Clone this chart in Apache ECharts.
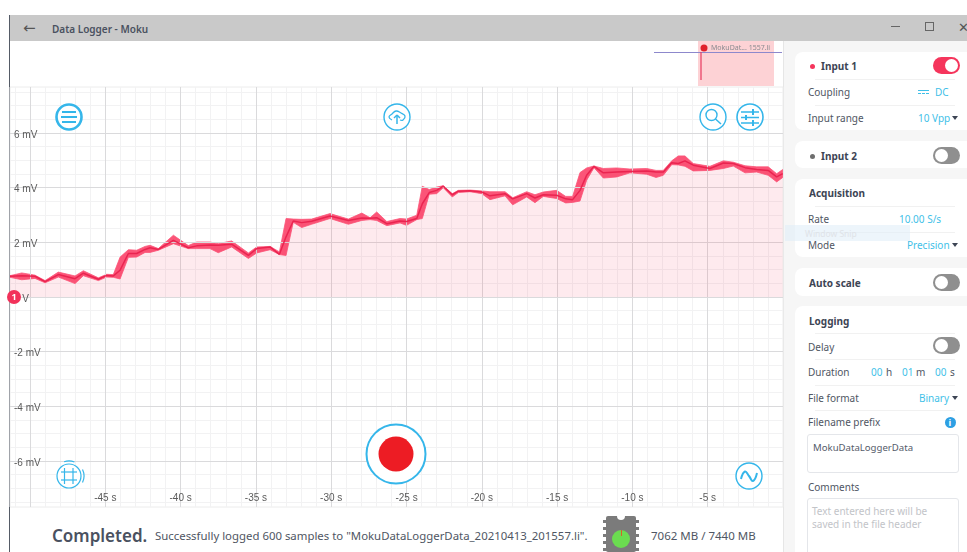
<!DOCTYPE html>
<html>
<head>
<meta charset="utf-8">
<title>Data Logger - Moku</title>
<script src="https://cdn.jsdelivr.net/npm/echarts@6/dist/echarts.min.js"></script>
<style>
html, body { margin: 0; padding: 0; width: 967px; height: 552px; overflow: hidden; background: #fff; font-family: "Noto Sans", sans-serif; }
#chart { position: absolute; left: 0; top: 0; width: 967px; height: 552px; }
#ui { position: absolute; left: 0; top: 0; width: 967px; height: 552px; overflow: hidden; }
.box { position: absolute; box-sizing: border-box; }
.t { position: absolute; white-space: nowrap; transform: translateY(-50%); font-size: 10px; color: #4f5663; }
.b { font-weight: 700; color: #3d4554; }
.c { color: #3fbfe8; }
.card { background: #fff; border-radius: 8px; }
.field { background: #fff; border: 1px solid #e4e6ea; border-radius: 3px; }
.sw { border-radius: 9px; width: 27px; height: 17px; }
.knob { position: absolute; top: 2px; width: 13px; height: 13px; border-radius: 50%; background: #fff; }
.rule { height: 1px; background: #f1f1f1; left: 815px !important; width: 140px !important; }
.tri { position: absolute; width: 0; height: 0; border-left: 3.5px solid transparent; border-right: 3.5px solid transparent; border-top: 4px solid #3d4554; }
</style>
</head>
<body>
<div id="ui"></div>
<div id="chart"></div>
<script>
// envelope, one row per vertex
var timeS = [-51.33, -50.55, -49.67, -49.0, -48.12, -47.01, -46.46, -45.46, -44.91, -44.47, -44.02, -43.47, -42.92, -42.36, -42.03, -41.48, -40.48, -39.49, -38.93, -38.05, -37.5, -36.61, -35.5, -34.95, -34.06, -33.44, -33.0, -32.52, -31.96, -31.3, -30.08, -28.86, -27.97, -27.42, -26.98, -26.31, -25.43, -25.0, -24.32, -23.95, -23.49, -23.0, -22.56, -21.96, -21.56, -20.79, -20.0, -19.46, -18.46, -17.95, -17.02, -16.47, -15.92, -15.03, -14.43, -13.97, -13.48, -13.04, -12.55, -11.93, -11.04, -10.16, -9.05, -8.43, -7.95, -7.39, -6.95, -6.51, -5.96, -4.85, -3.96, -3.3, -2.52, -1.75, -0.98, -0.42, -0.02];
var midMv = [0.76, 0.78, 0.76, 0.56, 0.82, 0.67, 0.87, 0.65, 0.79, 0.77, 0.98, 1.59, 1.59, 1.74, 1.8, 1.74, 2.07, 1.8, 1.87, 1.9, 1.89, 1.93, 1.52, 1.77, 1.83, 1.56, 2.2, 2.78, 2.72, 2.77, 2.96, 2.8, 2.89, 2.88, 2.9, 2.68, 2.78, 2.76, 2.87, 3.41, 3.82, 3.9, 4.05, 3.74, 3.87, 3.89, 3.84, 3.7, 3.78, 3.59, 3.78, 3.62, 3.74, 3.72, 3.59, 3.56, 3.9, 4.45, 4.78, 4.54, 4.57, 4.59, 4.61, 4.57, 4.57, 4.91, 4.88, 4.98, 4.82, 4.7, 4.9, 4.88, 4.73, 4.66, 4.63, 4.39, 4.51];
var highMv = [0.78, 0.88, 0.8, 0.6, 0.91, 0.77, 0.96, 0.7, 0.83, 0.82, 1.46, 1.73, 1.71, 1.85, 1.89, 1.77, 2.26, 1.88, 2.01, 2.01, 1.95, 2.05, 1.61, 1.83, 1.85, 1.65, 2.87, 2.85, 2.84, 2.85, 3.05, 2.85, 3.07, 2.9, 3.11, 2.76, 2.87, 2.85, 2.99, 4.05, 3.93, 4.02, 4.07, 3.78, 3.9, 3.91, 3.88, 3.85, 3.85, 3.63, 3.85, 3.74, 3.84, 3.9, 3.68, 3.68, 4.55, 4.72, 4.79, 4.7, 4.72, 4.68, 4.7, 4.63, 4.63, 4.98, 5.16, 5.16, 4.88, 4.78, 4.98, 4.93, 4.8, 4.76, 4.76, 4.51, 4.66];
var lowMv = [0.72, 0.63, 0.68, 0.52, 0.73, 0.49, 0.78, 0.6, 0.73, 0.72, 0.66, 1.45, 1.46, 1.63, 1.63, 1.71, 1.95, 1.77, 1.77, 1.77, 1.62, 1.83, 1.41, 1.61, 1.73, 1.55, 1.52, 2.73, 2.54, 2.66, 2.87, 2.66, 2.8, 2.83, 2.8, 2.61, 2.71, 2.62, 2.83, 2.87, 3.76, 3.78, 4.0, 3.66, 3.82, 3.85, 3.78, 3.56, 3.7, 3.37, 3.66, 3.45, 3.68, 3.6, 3.44, 3.46, 3.51, 4.27, 4.73, 4.35, 4.39, 4.54, 4.49, 4.37, 4.45, 4.84, 4.83, 4.78, 4.61, 4.63, 4.7, 4.79, 4.54, 4.57, 4.45, 4.21, 4.37];

var xLabelTicks = [-45, -40, -35, -30, -25, -20, -15, -10, -5];
var xMajorTicks = [-50, -45, -40, -35, -30, -25, -20, -15, -10, -5];
var yMajorTicks = [-6, -4, -2, 0, 2, 4, 6];

var xMinorTicks = [];
for (var s = -51; s < 0; s++) {
    xMinorTicks.push(s);
}
var yMinorTicks = [];
for (var m = -7.5; m <= 7.5; m += 0.5) {
    yMinorTicks.push(m);
}

var BLUE = '#35b6ea';

function pairs(values) {
    return values.map(function (v, i) {
        return [timeS[i], v];
    });
}

// min/max envelope as one closed polygon
function renderBand(params, api) {
    if (params.dataIndex !== 0) {
        return;
    }
    var upper = timeS.map(function (t, i) { return api.coord([t, highMv[i]]); });
    var lower = timeS.map(function (t, i) { return api.coord([t, lowMv[i]]); }).reverse();
    return {
        type: 'polygon',
        shape: { points: upper.concat(lower) },
        style: { fill: '#fb5578', stroke: '#fb5578', lineWidth: 0.8 }
    };
}

function ring(x, y, r, width) {
    return { type: 'circle', shape: { cx: x, cy: y, r: r }, style: { fill: '#fff', stroke: BLUE, lineWidth: width }, z: 20 };
}

function seg(x1, y1, x2, y2, color, width) {
    return { type: 'line', shape: { x1: x1, y1: y1, x2: x2, y2: y2 }, style: { stroke: color || BLUE, lineWidth: width || 1.5 }, z: 21 };
}

function curve(points, width) {
    return { type: 'polyline', shape: { points: points, smooth: 0.5 }, style: { fill: 'none', stroke: BLUE, lineWidth: width || 1.5 }, z: 21 };
}

function arc(x, y, r, a, b) {
    return { type: 'arc', shape: { cx: x, cy: y, r: r, startAngle: a, endAngle: b }, style: { fill: 'none', stroke: BLUE, lineWidth: 1.2 }, z: 21 };
}

var graphics = [
    // overview strip
    { type: 'rect', shape: { x: 698, y: 41, width: 76, height: 45 }, style: { fill: '#fdd2d5' }, z: 20 },
    seg(654, 52.5, 782, 52.5, '#8d88cc', 1),
    seg(701, 52, 701, 80, '#e8395f', 1.2),
    { type: 'circle', shape: { cx: 704, cy: 48, r: 3.5 }, style: { fill: '#e0202c' }, z: 21 },
    { type: 'text', style: { x: 711, y: 48, text: 'MokuDat... 1557.li', fontSize: 7, fill: '#8b8b90', verticalAlign: 'middle', fontFamily: 'Noto Sans' }, z: 21 },

    // menu
    ring(69, 117, 12.5, 2.6),
    seg(62, 112, 76, 112, BLUE, 2), seg(61, 117, 77, 117, BLUE, 2), seg(62, 122, 76, 122, BLUE, 2),
    // cloud upload
    ring(397, 117, 13, 1.4),
    curve([[392, 120], [389, 117], [392, 114], [396, 111], [401, 113], [405, 116], [403, 120], [400, 120]], 1.3),
    seg(397, 115, 397, 124), seg(394, 118, 397, 115), seg(400, 118, 397, 115),
    // search
    ring(713, 117, 13, 1.4),
    { type: 'circle', shape: { cx: 711.5, cy: 115, r: 5.5 }, style: { fill: 'none', stroke: BLUE, lineWidth: 1.4 }, z: 21 },
    seg(715.5, 119, 721, 124),
    // sliders
    ring(750, 117, 13, 1.6),
    seg(741, 112, 759, 112), seg(741, 117.5, 759, 117.5), seg(741, 123, 759, 123),
    seg(753, 109, 753, 115, BLUE, 2), seg(746, 115, 746, 120, BLUE, 2), seg(753, 120, 753, 126, BLUE, 2),
    // grid
    ring(69, 476, 12, 1.2),
    arc(69, 476, 15, -1.9, -1.2), arc(69, 476, 15, -0.45, 0.45),
    seg(64.5, 468, 64.5, 484, BLUE, 1.2), seg(73, 468, 73, 484, BLUE, 1.2),
    seg(61, 472, 77, 472, BLUE, 1.2), seg(61, 480, 77, 480, BLUE, 1.2),
    // sine
    ring(749, 476, 13, 1.4),
    curve([[741, 479], [745, 471.5], [749, 476], [753, 481], [757, 473]], 2),
    // record button
    ring(396, 454, 29.5, 2),
    { type: 'circle', shape: { cx: 396, cy: 454, r: 17.5 }, style: { fill: '#ed1c24' }, z: 21 },
    // input marker
    { type: 'circle', shape: { cx: 14, cy: 297, r: 7 }, style: { fill: '#f2315a' }, z: 20 },
    { type: 'text', style: { x: 14, y: 297, text: '1', fontSize: 9, fontWeight: 'bold', fill: '#fff', align: 'center', verticalAlign: 'middle', fontFamily: 'Noto Sans' }, z: 21 }
];

var chart = echarts.init(document.getElementById('chart'), null, { renderer: 'canvas' });
chart.setOption({
    animation: false,
    backgroundColor: 'transparent',
    grid: { left: 10, right: 184, top: 87, bottom: 45, show: true, borderColor: '#ececec', borderWidth: 1 },
    xAxis: [{
        type: 'value',
        min: -51.33,
        max: 0,
        axisLine: { show: false },
        axisTick: { show: false, customValues: xMajorTicks },
        axisLabel: {
            inside: true,
            margin: 4,
            customValues: xLabelTicks,
            color: '#5a5a5a',
            fontSize: 10,
            fontFamily: 'Liberation Sans',
            formatter: function (v) { return v + ' s'; }
        },
        splitLine: { show: true, lineStyle: { color: '#dadadc', width: 1 } },
        z: 3
    }, {
        type: 'value',
        min: -51.33,
        max: 0,
        axisLine: { show: false },
        axisTick: { show: false, customValues: xMinorTicks },
        axisLabel: { show: false },
        splitLine: { show: true, lineStyle: { color: '#f2f2f3', width: 1 } },
        z: 1
    }],
    yAxis: [{
        type: 'value',
        min: -7.68,
        max: 7.68,
        axisLine: { show: false },
        axisTick: { show: false, customValues: yMajorTicks },
        axisLabel: {
            inside: true,
            margin: 4,
            verticalAlign: 'top',
            lineHeight: 4,
            customValues: yMajorTicks,
            color: '#5a5a5a',
            fontSize: 10,
            fontFamily: 'Liberation Sans',
            formatter: function (v) { return v === 0 ? '0 V' : v + ' mV'; }
        },
        splitLine: { show: true, lineStyle: { color: '#dadadc', width: 1 } },
        z: 3
    }, {
        type: 'value',
        min: -7.68,
        max: 7.68,
        axisLine: { show: false },
        axisTick: { show: false, customValues: yMinorTicks },
        axisLabel: { show: false },
        splitLine: { show: true, lineStyle: { color: '#f2f2f3', width: 1 } },
        z: 1
    }],
    series: [{
        name: 'fill',
        type: 'line',
        data: pairs(midMv),
        showSymbol: false,
        silent: true,
        lineStyle: { width: 0 },
        areaStyle: { color: 'rgba(247,60,95,0.15)' }
    }, {
        name: 'band',
        type: 'custom',
        data: pairs(highMv),
        renderItem: renderBand,
        silent: true,
        clip: true
    }, {
        name: 'Input 1',
        type: 'line',
        data: pairs(midMv),
        showSymbol: false,
        silent: true,
        lineStyle: { color: '#ea2450', width: 1.5 }
    }],
    graphic: { elements: graphics }
});

// window chrome and side panel around the plot
var ui = document.getElementById('ui');

function box(x, y, w, h, cls, css) {
    var el = document.createElement('div');
    el.className = 'box ' + (cls || '');
    el.style.cssText = 'left:' + x + 'px;top:' + y + 'px;width:' + w + 'px;height:' + h + 'px;' + (css || '');
    ui.appendChild(el);
    return el;
}

function text(str, x, y, cls, css) {
    var el = document.createElement('div');
    el.className = 't ' + (cls || '');
    el.style.cssText = 'left:' + x + 'px;top:' + y + 'px;' + (css || '');
    el.textContent = str;
    ui.appendChild(el);
}

function toggle(y, on) {
    var el = box(933, y, 27, 17, 'sw', 'background:' + (on ? '#f5355c' : '#8f8f8f'));
    var k = document.createElement('div');
    k.className = 'knob';
    k.style.left = on ? '12px' : '2px';
    el.appendChild(k);
}

function arrow(x, y) {
    var el = document.createElement('div');
    el.className = 'tri';
    el.style.left = x + 'px';
    el.style.top = y + 'px';
    ui.appendChild(el);
}

// title bar
box(10, 15, 957, 26, '', 'background:#c9c9c9');
box(9, 15, 1, 537, '', 'background:#555b66');
text('\u2190', 23, 28, '', 'font-size:15px;color:#555;font-family:DejaVu Sans');
text('Data Logger - Moku', 52, 29, '', 'font-size:10px;font-weight:600;color:#4a5160');
box(891, 26, 9, 1, '', 'background:#666');
box(925, 22, 9, 9, '', 'border:1px solid #666');
text('\u2715', 958, 27, '', 'font-size:13px;color:#555;font-family:DejaVu Sans');

// side panel
box(783, 41, 184, 511, '', 'background:#f6f6f6;border-left:1px solid #e6e6e6');
box(795, 52, 180, 78, 'card');
box(795, 141, 180, 27, 'card');
box(795, 179, 180, 78, 'card');
box(795, 268, 180, 28, 'card');
box(795, 306, 180, 260, 'card');

box(809.5, 63.5, 5, 5, '', 'background:#f5355c;border-radius:50%');
text('Input 1', 821, 66, 'b');
toggle(57, true);
box(0, 79, 0, 1, 'rule');
text('Coupling', 808, 92);
box(918, 90, 11, 1, '', 'background:#3fbfe8');
box(918, 93, 11, 1, '', 'border-top:1px dashed #3fbfe8');
text('DC', 935, 92, 'c');
box(0, 105, 0, 1, 'rule');
text('Input range', 808, 118);
text('10 Vpp', 918, 118, 'c');
arrow(952, 116);

box(809.5, 153.5, 5, 5, '', 'background:#6e6e6e;border-radius:50%');
text('Input 2', 821, 156, 'b');
toggle(147, false);

text('Acquisition', 809, 193, 'b');
box(0, 206, 0, 1, 'rule');
text('Rate', 808, 219);
text('10.00  S/s', 899, 219, 'c');
box(0, 232, 0, 1, 'rule');
text('Mode', 808, 245);
text('Precision', 907, 245, 'c');
arrow(952, 243);

text('Auto scale', 809, 283, 'b');
toggle(274, false);

text('Logging', 809, 321, 'b');
box(0, 333, 0, 1, 'rule');
text('Delay', 808, 347);
toggle(337, false);
box(0, 359, 0, 1, 'rule');
text('Duration', 808, 372);
text('00', 871, 372, 'c');
text('h', 886, 372);
text('01', 902, 372, 'c');
text('m', 916, 372);
text('00', 935, 372, 'c');
text('s', 950, 372);
box(0, 385, 0, 1, 'rule');
text('File format', 808, 398);
text('Binary', 919, 398, 'c');
arrow(952, 396);
box(0, 410, 0, 1, 'rule');
text('Filename prefix', 808, 422);
box(944.5, 416.5, 11, 11, '', 'background:#2d9fe3;border-radius:50%');
text('i', 948.5, 422, '', 'font-size:9px;font-weight:700;color:#fff');
box(807, 434, 152, 39, 'field');
text('MokuDataLoggerData', 813, 447, '', 'font-size:9.6px;color:#555c6a');
text('Comments', 808, 487);
box(807, 498, 152, 70, 'field');
text('Text entered here will be', 812, 511, '', 'color:#c2c4c8');
text('saved in the file header', 812, 524, '', 'color:#c2c4c8');

// screenshot tool overlay left on the panel
box(785, 225, 125, 16, '', 'background:rgba(225,238,248,0.6)');
text('Window Snip', 805, 233, '', 'font-size:8.5px;color:#dfe3e8');

// status line
text('Completed.', 52, 535, '', 'font-size:17px;font-weight:600;color:#4a5160');
text('Successfully logged 600 samples to "MokuDataLoggerData_20210413_201557.li".', 155, 535, '', 'font-size:11.4px;color:#4f5663');
text('7062 MB / 7440 MB', 651, 535, '', 'font-size:11.5px;color:#4f5663');

// memory chip
box(606, 516, 30, 36, '', 'background:#7b7b7b;border-radius:2px');
for (var p = 0; p < 5; p++) {
    box(603, 520 + p * 7, 36, 3, '', 'background:#7b7b7b');
}
box(617, 516, 8, 4, '', 'background:#fff;border-radius:0 0 4px 4px');
box(612, 530, 18, 18, '', 'background:#6bdc50;border-radius:50%');
box(620.5, 530, 1.5, 6, '', 'background:#d8602a');
</script>
</body>
</html>
